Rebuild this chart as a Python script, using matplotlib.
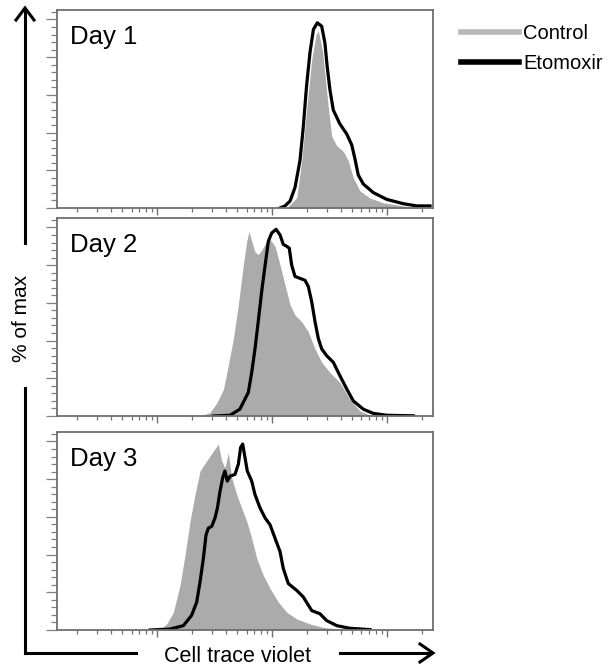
import numpy as np
import matplotlib
matplotlib.use("Agg")
import matplotlib.pyplot as plt
from matplotlib.lines import Line2D
from matplotlib.ticker import LogLocator, MultipleLocator, NullFormatter

plt.rcParams['font.family'] = ['Liberation Sans', 'DejaVu Sans']

# log10 of Cell Trace Violet intensity, and % of max
day1_ctrl_x = [4.128, 4.215, 4.258, 4.30, 4.345, 4.383, 4.403, 4.44, 4.47, 4.49, 4.519,
               4.563, 4.62, 4.664, 4.707, 4.765, 4.852, 4.968, 5.14, 5.287]
day1_ctrl_y = [0, 5.5, 25, 51.7, 78.6, 92, 94, 83, 65, 53, 38,
               33, 30, 25, 16, 9, 5.3, 2.7, 1.1, 0.3]
day1_eto_x = [4.07, 4.113, 4.157, 4.20, 4.243, 4.272, 4.30, 4.33, 4.36, 4.394, 4.432, 4.46,
              4.48, 4.504, 4.533, 4.59, 4.65, 4.693, 4.72, 4.75, 4.794, 4.88, 4.997,
              5.14, 5.258, 5.374]
day1_eto_y = [0, 1.1, 3.7, 10.9, 25.1, 43, 64.5, 82.4, 94.7, 98.2, 96.4, 87.5,
              74.9, 62.6, 51.9, 44.6, 39.2, 33.5, 26.4, 17.5, 12.7, 8.2, 4.6,
              2.3, 1.1, 1.1]

day2_ctrl_x = [3.374, 3.46, 3.52, 3.577, 3.62, 3.664, 3.707, 3.75, 3.78, 3.80, 3.823, 3.852,
               3.88, 3.91, 3.948, 3.983, 4.026, 4.07, 4.113, 4.157, 4.2, 4.258, 4.316,
               4.374, 4.432, 4.504, 4.59, 4.678, 4.765, 4.852, 4.997]
day2_ctrl_y = [0, 1.8, 7, 14, 27, 41, 59, 80, 92.7, 98, 92.7, 87,
               85.6, 88, 92, 93.6, 90, 80, 69.5, 59, 53.5, 50, 44.6,
               35.6, 28.5, 23, 17.8, 8.9, 2.7, 0.4, 0]
day2_eto_x = [3.49, 3.635, 3.72, 3.794, 3.823, 3.852, 3.88, 3.91, 3.94, 3.968, 3.997, 4.035,
              4.07, 4.098, 4.128, 4.15, 4.171, 4.2, 4.243, 4.287, 4.316, 4.345, 4.374,
              4.403, 4.432, 4.475, 4.533, 4.59, 4.65, 4.707, 4.794, 4.88, 4.997, 5.23]
day2_eto_y = [0, 0.4, 3.6, 12.5, 23, 35.6, 50, 66, 80, 92.7, 97, 99,
              96, 91, 90, 89, 80, 74, 73, 72, 68.6, 60.6, 50,
              41, 35.6, 32, 28.5, 21.4, 14.3, 8, 3.6, 1.4, 0.4, 0.1]

day3_ctrl_x = [3.026, 3.084, 3.142, 3.2, 3.243, 3.287, 3.33, 3.374, 3.432, 3.49, 3.533,
               3.562, 3.59, 3.62, 3.649, 3.693, 3.736, 3.78, 3.823, 3.867, 3.924, 3.983,
               4.055, 4.128, 4.215, 4.33, 4.446, 4.62]
day3_ctrl_y = [0, 3.2, 9.4, 23.7, 39.7, 57.6, 71.8, 84.3, 89.7, 95, 98.6,
               89.7, 86, 94, 80.7, 71.8, 64.7, 57.6, 48.7, 38, 29, 22,
               14.8, 9.4, 5.9, 3.2, 1.4, 0.2]
day3_eto_x = [2.94, 3.113, 3.229, 3.30, 3.345, 3.374, 3.403, 3.426, 3.446, 3.476, 3.504,
              3.525, 3.548, 3.571, 3.59, 3.611, 3.635, 3.678, 3.707, 3.727, 3.745, 3.765,
              3.785, 3.823, 3.852, 3.896, 3.94, 3.983, 4.026, 4.07, 4.098, 4.142, 4.215,
              4.272, 4.345, 4.417, 4.475, 4.563, 4.678, 4.852]
day3_eto_y = [0, 0.5, 2.3, 7.7, 14.8, 25.5, 38, 50.4, 54, 55, 59.4,
              64.7, 73.6, 80.7, 84.3, 79, 81.6, 82.5, 87.9, 96.8, 98.6, 91.4,
              84.3, 79, 71.8, 64.7, 59.4, 55.8, 48.7, 41.5, 32.6, 24.6, 21,
              17.5, 10.3, 8.6, 5, 2.3, 0.9, 0.2]

day_labels = ["Day 1", "Day 2", "Day 3"]
series_names = ["Control", "Etomoxir"]

panels = [
    (day1_ctrl_x, day1_ctrl_y, day1_eto_x, day1_eto_y),
    (day2_ctrl_x, day2_ctrl_y, day2_eto_x, day2_eto_y),
    (day3_ctrl_x, day3_ctrl_y, day3_eto_x, day3_eto_y),
]

W, H = 614, 671
fig = plt.figure(figsize=(W / 100, H / 100), dpi=100)

grey = "#ababab"
frame_col = "#6e6e6e"
# panel boxes in pixels: (top, bottom)
boxes = [(10, 208), (218, 416), (432, 630)]
left_px, right_px = 57, 433

for (top, bot), label, (cx, cy, ex, ey) in zip(boxes, day_labels, panels):
    ax = fig.add_axes([left_px / W, 1 - bot / H, (right_px - left_px) / W, (bot - top) / H])
    ax.fill_between(10 ** np.array(cx), cy, 0, color=grey, lw=0)
    ax.plot(10 ** np.array(ex), ey, color="black", lw=2.3)
    ax.set_xscale("log")
    ax.set_xlim(10 ** 2.13, 10 ** 5.40)
    ax.set_ylim(0, 105)
    ax.xaxis.set_major_locator(LogLocator(base=10))
    ax.xaxis.set_minor_locator(LogLocator(base=10, subs=np.arange(2, 10)))
    ax.xaxis.set_major_formatter(NullFormatter())
    ax.xaxis.set_minor_formatter(NullFormatter())
    ax.yaxis.set_major_locator(MultipleLocator(20))
    ax.yaxis.set_minor_locator(MultipleLocator(4))
    ax.set_yticklabels([])
    ax.tick_params(axis="y", which="major", length=8, width=0.9, color="#808080")
    ax.tick_params(axis="y", which="minor", length=4, width=0.9, color="#808080")
    ax.tick_params(axis="x", which="major", length=5, width=1.0, color="#707070")
    ax.tick_params(axis="x", which="minor", length=3, width=0.9, color="#707070")
    for sp in ax.spines.values():
        sp.set_color(frame_col)
        sp.set_linewidth(1.3)
    ax.text(0.035, 0.925, label, transform=ax.transAxes, fontsize=18.5, va="top", ha="left")

# axis arrows drawn in figure pixels
def fx(px):
    return px / W

def fy(py):
    return 1 - py / H

ox, oy = 25, 653
fig.add_artist(Line2D([fx(ox), fx(ox)], [fy(oy), fy(388)], color="black", lw=2.2,
                      transform=fig.transFigure))
fig.add_artist(Line2D([fx(ox), fx(ox)], [fy(243), fy(10)], color="black", lw=2.2,
                      transform=fig.transFigure))
fig.add_artist(Line2D([fx(ox), fx(136)], [fy(oy), fy(oy)], color="black", lw=2.2,
                      transform=fig.transFigure, solid_capstyle="projecting"))
fig.add_artist(Line2D([fx(340), fx(431)], [fy(oy), fy(oy)], color="black", lw=2.2,
                      transform=fig.transFigure))
fig.add_artist(Line2D([fx(ox - 9), fx(ox), fx(ox + 9)], [fy(20), fy(8), fy(20)], color="black",
                      lw=2.2, transform=fig.transFigure, solid_joinstyle="miter"))
fig.add_artist(Line2D([fx(420), fx(433), fx(420)], [fy(oy - 9), fy(oy), fy(oy + 9)], color="black",
                      lw=2.2, transform=fig.transFigure, solid_joinstyle="miter"))

fig.text(fx(22), fy(318), "% of max", rotation=90, fontsize=15, ha="center", va="center")
fig.text(fx(237), fy(657), "Cell trace violet", fontsize=15.5, ha="center", va="center")

handles = [Line2D([], [], color="#b8b8b8", lw=4), Line2D([], [], color="black", lw=4)]
fig.legend(handles, series_names, loc="upper left", bbox_to_anchor=(fx(461), fy(24)),
           frameon=False, fontsize=14.5, handlelength=2.9, handletextpad=0.2,
           labelspacing=0.55, borderpad=0, borderaxespad=0)

fig.savefig("out.png", dpi=100)
